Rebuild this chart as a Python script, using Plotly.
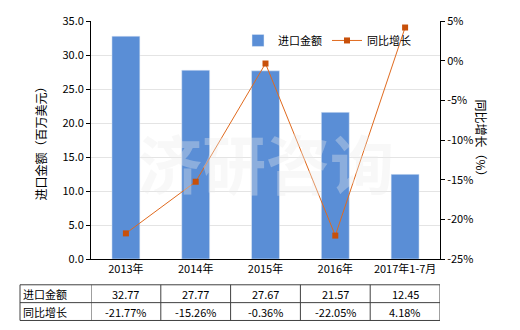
import plotly.graph_objects as go

categories = ["2013年", "2014年", "2015年", "2016年", "2017年1-7月"]
import_values = [32.77, 27.77, 27.67, 21.57, 12.45]
growth_values = [-21.77, -15.26, -0.36, -22.05, 4.18]
row_labels = ["进口金额", "同比增长"]
left_ticks = [0, 5, 10, 15, 20, 25, 30, 35]
right_ticks = [-25, -20, -15, -10, -5, 0, 5]

FONT = "Noto Sans CJK SC, Microsoft YaHei, sans-serif"
W, H = 520, 330
L, R, T, B = 91, 80, 19, 71
pw, ph = W - L - R, H - T - B

def py(p):  # pixel y -> paper y
    return (H - B - p) / ph

def px(p):  # pixel x -> paper x
    return (p - L) / pw

x_idx = list(range(len(categories)))

fig = go.Figure()
fig.add_trace(go.Bar(x=x_idx, y=import_values, name="进口金额", marker_color="#5A8ED6",
                     width=0.4, yaxis="y"))
fig.add_trace(go.Scatter(x=x_idx, y=growth_values, name="同比增长", yaxis="y2",
                         mode="lines+markers", line=dict(color="#E06A1E", width=1),
                         marker=dict(symbol="square", size=6, color="#C8500A")))

shapes = []
annotations = []
top, mid, bot = py(285), py(303), py(321)
left = px(20)
for yv in (top, mid, bot):
    shapes.append(dict(type="line", xref="paper", yref="paper", x0=left, x1=1.0, y0=yv, y1=yv,
                       line=dict(color="#404040", width=1)))
shapes.append(dict(type="line", xref="paper", yref="paper", x0=left, x1=left, y0=top, y1=bot,
                   line=dict(color="#404040", width=1)))
for i in range(len(categories) + 1):
    shapes.append(dict(type="line", xref="x", yref="paper", x0=i - 0.5, x1=i - 0.5, y0=top, y1=bot,
                       line=dict(color="#404040", width=1)))
for r, lab in enumerate(row_labels):
    yc = (top + mid) / 2 if r == 0 else (mid + bot) / 2
    annotations.append(dict(xref="paper", yref="paper", x=left + 0.003, y=yc, text=lab, showarrow=False,
                            xanchor="left", yanchor="middle", font=dict(size=11, color="#000")))
for i in x_idx:
    annotations.append(dict(xref="x", yref="paper", x=i, y=(top + mid) / 2, text=f"{import_values[i]:.2f}",
                            showarrow=False, yanchor="middle", font=dict(size=11, color="#000")))
    annotations.append(dict(xref="x", yref="paper", x=i, y=(mid + bot) / 2, text=f"{growth_values[i]:.2f}%",
                            showarrow=False, yanchor="middle", font=dict(size=11, color="#000")))
annotations.append(dict(xref="paper", yref="paper", x=px(30), y=py(140), text="进口金额（百万美元）",
                        textangle=-90, showarrow=False, font=dict(size=12, color="#000")))
annotations.append(dict(xref="paper", yref="paper", x=px(492), y=py(140), text="同比增长（%）",
                        textangle=90, showarrow=False, font=dict(size=12, color="#000")))
annotations.append(dict(xref="paper", yref="paper", x=0.5, y=py(160), text="<b>济研咨询</b>", showarrow=False,
                        font=dict(size=64, color="rgba(235,235,235,0.35)")))

fig.update_layout(
    width=W, height=H, margin=dict(l=L, r=R, t=T, b=B),
    paper_bgcolor="white", plot_bgcolor="white",
    font=dict(family=FONT, size=11, color="#000"),
    showlegend=True,
    legend=dict(orientation="h", x=px(238), y=py(24), xanchor="left", yanchor="top",
                font=dict(size=11), bgcolor="rgba(0,0,0,0)", itemwidth=30, traceorder="normal"),
    xaxis=dict(tickmode="array", tickvals=x_idx, ticktext=categories, range=[-0.5, 4.5],
               showline=True, linecolor="#000", linewidth=1, ticks="", showgrid=False,
               tickfont=dict(size=11)),
    yaxis=dict(range=[0, 35], tickmode="array", tickvals=left_ticks,
               ticktext=[f"{v:.1f}" for v in left_ticks], showline=True, linecolor="#000",
               ticks="outside", ticklen=4, tickcolor="#000", showgrid=True, gridcolor="#E4E4E4",
               zeroline=False, tickfont=dict(size=11)),
    yaxis2=dict(range=[-25, 5], tickmode="array", tickvals=right_ticks,
                ticktext=[f"{v}%" for v in right_ticks], overlaying="y", side="right",
                showline=True, linecolor="#000", ticks="outside", ticklen=4, tickcolor="#000",
                showgrid=False, zeroline=False, tickfont=dict(size=11)),
    bargap=0.6,
    shapes=shapes, annotations=annotations,
)
fig.write_html("out.html")
